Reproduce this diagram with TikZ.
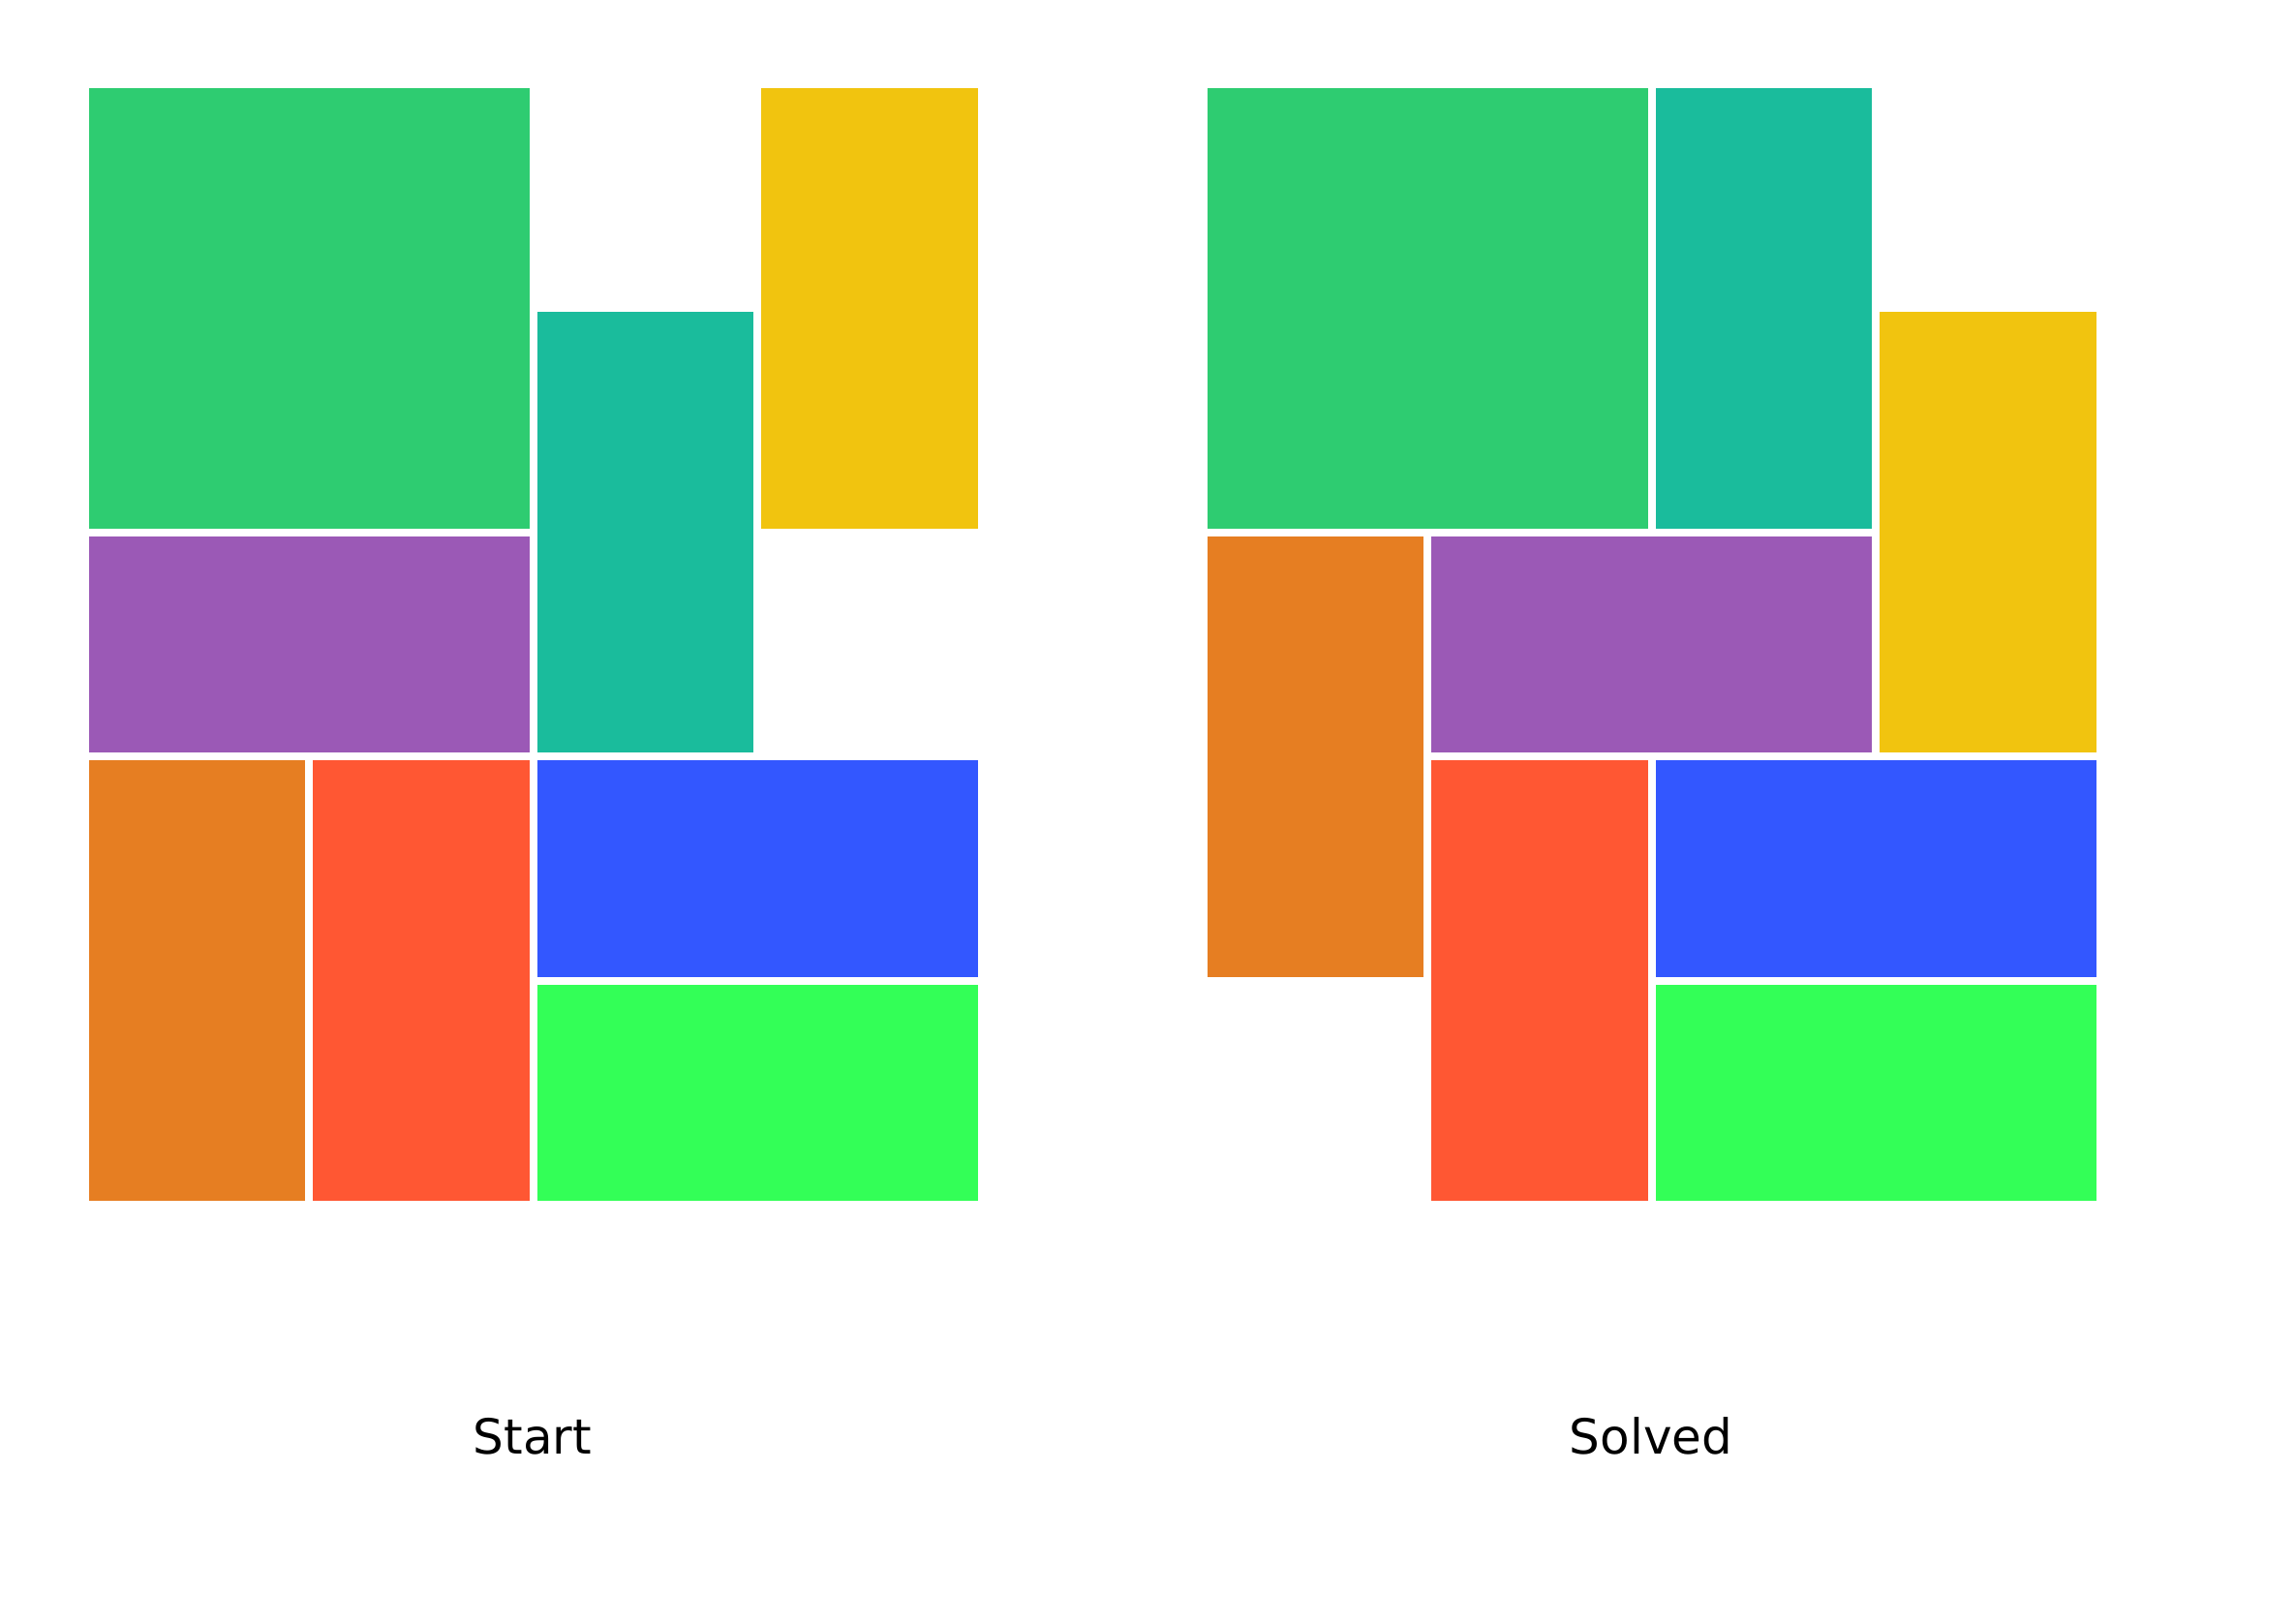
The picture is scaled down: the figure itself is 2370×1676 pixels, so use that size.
\documentclass[tikz,border=0pt]{standalone}
\usepackage{fontspec}
\setmainfont{DejaVu Sans}
\definecolor{cgreen}{HTML}{2ECC71}
\definecolor{cteal}{HTML}{1ABC9C}
\definecolor{cyellow}{HTML}{F1C40F}
\definecolor{cpurple}{HTML}{9B59B6}
\definecolor{corange}{HTML}{E67E22}
\definecolor{cred}{HTML}{FF5733}
\definecolor{cblue}{HTML}{3357FF}
\definecolor{clime}{HTML}{33FF57}
\newcommand{\piece}[6]{%
  \fill[#6] ({#1+#2*231.4+4},{87+#3*231.4+4}) rectangle ({#1+#4*231.4-4},{87+#5*231.4-4});}
\tikzset{lbl/.style={font=\fontsize{25bp}{30bp}\selectfont, text=black, inner sep=0pt}}
\begin{document}
\begin{tikzpicture}[x=0.5bp,y=-0.5bp]
\useasboundingbox[fill=white] (0,0) rectangle (2370,1676);
% Start panel (origin x = 88)
\piece{88}{0}{0}{2}{2}{cgreen}
\piece{88}{3}{0}{4}{2}{cyellow}
\piece{88}{2}{1}{3}{3}{cteal}
\piece{88}{0}{2}{2}{3}{cpurple}
\piece{88}{0}{3}{1}{5}{corange}
\piece{88}{1}{3}{2}{5}{cred}
\piece{88}{2}{3}{4}{4}{cblue}
\piece{88}{2}{4}{4}{5}{clime}
% Solved panel (origin x = 1243)
\piece{1243}{0}{0}{2}{2}{cgreen}
\piece{1243}{2}{0}{3}{2}{cteal}
\piece{1243}{3}{1}{4}{3}{cyellow}
\piece{1243}{0}{2}{1}{4}{corange}
\piece{1243}{1}{2}{3}{3}{cpurple}
\piece{1243}{1}{3}{2}{5}{cred}
\piece{1243}{2}{3}{4}{4}{cblue}
\piece{1243}{2}{4}{4}{5}{clime}
\node[lbl] (start) at (550,1483) {Start};
\node[lbl] (solved) at (1705,1483) {Solved};
\end{tikzpicture}
\end{document}
